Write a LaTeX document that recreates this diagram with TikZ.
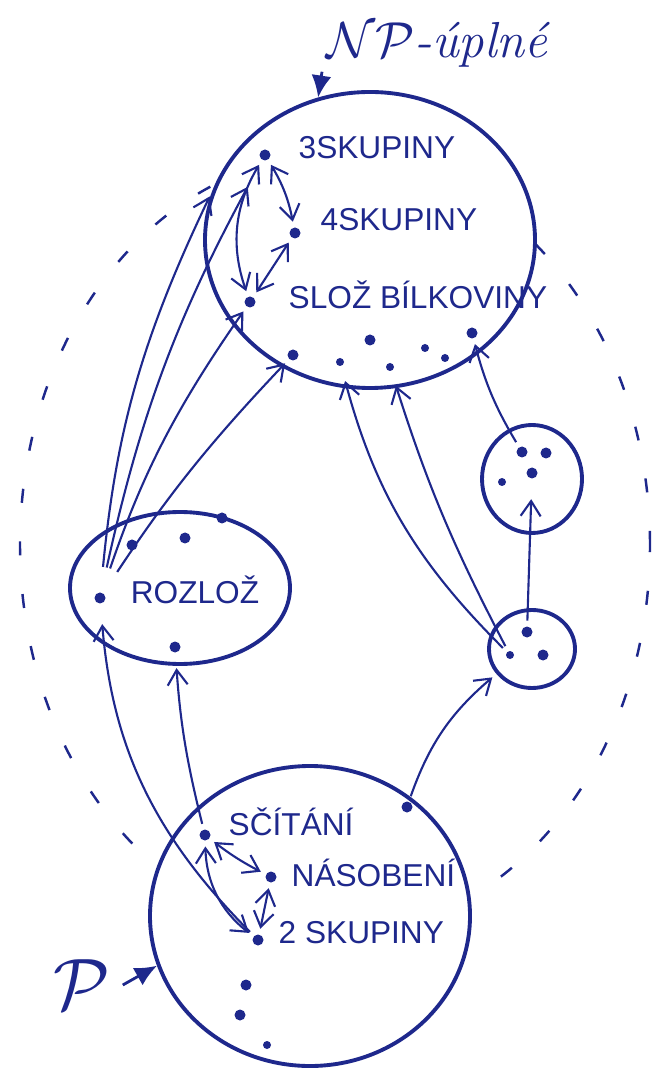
\documentclass[tikz,border=0pt]{standalone}
\usepackage{fontspec}
\setsansfont{Liberation Sans}
\usetikzlibrary{arrows.meta,shapes.geometric}
\definecolor{ink}{RGB}{30,40,140}
\begin{document}
\begin{tikzpicture}[x=1cm,y=-1cm,font=\sffamily\fontsize{9}{11}\selectfont,color=ink,>={Straight Barb[length=1.5mm,width=2mm]},
 cls/.style={draw,line width=1.1pt,ellipse,fill=white,inner sep=0pt},
 elem/.style={circle,fill,inner sep=0pt,minimum size=1.1mm},
 small/.style={elem,minimum size=.8mm},
 lbl/.style={anchor=west,inner sep=0pt},
 rel/.style={line width=.6pt,->,shorten >=1.5pt,shorten <=1.5pt}]
\useasboundingbox (0,0) rectangle (6.61,10.78);
\node[cls,fill=none,line width=.7pt,dash pattern=on 4pt off 11pt,minimum width=6.3cm,minimum height=7.8cm] (NP) at (3.35,5.45) {};
\node[cls,minimum width=3.3cm,minimum height=2.96cm] (npc) at (3.70,2.40) {};
\node[cls,minimum width=2.2cm,minimum height=1.52cm] (rozloz) at (1.80,5.88) {};
\node[cls,minimum width=1.0cm,minimum height=1.08cm] (sa) at (5.32,4.79) {};
\node[cls,minimum width=0.86cm,minimum height=0.78cm] (sb) at (5.32,6.49) {};
\node[cls,minimum width=3.2cm,minimum height=3.0cm] (P) at (3.10,9.16) {};
\node[anchor=west,inner sep=1pt] (nplbl) at (3.22,0.45) {\rmfamily\Large$\mathcal{NP}$\textit{-úplné}};
\draw[line width=.8pt,-{Latex[length=2.2mm,width=2mm]}] (nplbl.south west) -- (npc.110);
\node (plbl) at (0.82,9.85) {\huge$\mathcal{P}$};
\draw[line width=.8pt,-{Latex[length=2.2mm,width=2mm]}] (plbl.east) -- (P.198);
\node[elem] (d3) at (2.65,1.55) {};
\node[elem] (d4) at (2.95,2.33) {};
\node[elem] (dS) at (2.50,3.02) {};
\node[elem] (t1) at (2.93,3.55) {};
\node[small] (t2) at (3.40,3.62) {};
\node[elem] (t3) at (3.70,3.40) {};
\node[small] (t4) at (3.90,3.67) {};
\node[small] (t5) at (4.25,3.48) {};
\node[small] (t6) at (4.45,3.58) {};
\node[elem] (t7) at (4.72,3.33) {};
\node[lbl] (l3) at (2.98,1.48) {3SKUPINY};
\node[lbl] (l4) at (3.20,2.20) {4SKUPINY};
\node[lbl] (lS) at (2.88,2.95) {SLOŽ BÍLKOVINY};
\node[elem] (r0) at (1.00,5.98) {};
\node[elem] (r1) at (1.32,5.45) {};
\node[elem] (r2) at (1.85,5.38) {};
\node[elem] (r3) at (2.22,5.18) {};
\node[elem] (r4) at (1.75,6.47) {};
\node (lR) at (1.95,5.90) {ROZLOŽ};
\node[elem] (a1) at (5.22,4.52) {};
\node[elem] (a2) at (5.46,4.53) {};
\node[elem] (a3) at (5.32,4.73) {};
\node[small] (a4) at (5.02,4.82) {};
\node[small] (b0) at (5.10,6.55) {};
\node[elem] (b1) at (5.27,6.32) {};
\node[elem] (b2) at (5.43,6.55) {};
\node[elem] (sc) at (2.05,8.35) {};
\node[elem] (nas) at (2.71,8.77) {};
\node[elem] (two) at (2.58,9.40) {};
\node[elem] (p4) at (2.46,9.85) {};
\node[elem] (p5) at (2.40,10.15) {};
\node[small] (p6) at (2.67,10.45) {};
\node[elem] (pq) at (4.07,8.07) {};
\node[lbl] (lsc) at (2.28,8.22) {SČÍTÁNÍ};
\node[lbl] (lnas) at (2.91,8.73) {NÁSOBENÍ};
\node[lbl] (ltwo) at (2.78,9.33) {2 SKUPINY};
\draw[rel,<->] (d3) to[bend left=10] (d4);
\draw[rel,<->] (d4) -- (dS);
\draw[rel,<->] (d3) to[bend right=25] (dS);
\draw[rel,shorten <=2.5mm] (r0) to[bend left=10] (npc.163);
\draw[rel,shorten <=2.5mm,shorten >=3mm] (r0) to[bend left=8] (d3);
\draw[rel,shorten <=2.5mm] (r0) to[bend left=8] (dS);
\draw[rel,shorten <=2.5mm] (r0) to[bend left=5] (t1);
\draw[rel,shorten >=2mm] (b1) -- (a3);
\draw[rel] (a1) to[bend left=8] (t7);
\draw[rel,shorten >=1.5mm] (b0) to[bend left=15] (t2);
\draw[rel,shorten >=1.5mm] (b0) to[bend left=5] (t4);
\draw[rel] (pq) to[bend left=15] (sb.215);
\draw[rel,<->] (sc) to[bend right=5] (nas);
\draw[rel,<->] (nas) -- (two);
\draw[rel,<->] (sc) to[bend right=25] (two);
\draw[rel,shorten >=1.5mm] (sc) to[bend left=5] (r4);
\draw[rel,shorten >=2mm] (two) to[bend left=20] (r0);
\end{tikzpicture}
\end{document}
